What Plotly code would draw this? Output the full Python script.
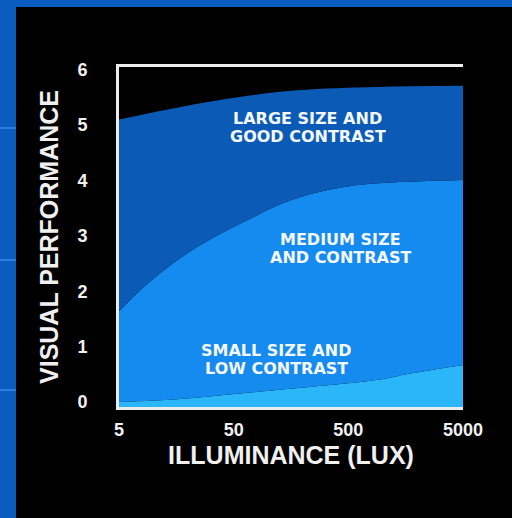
import math
import plotly.graph_objects as go

# ---- data ----
large_lux = [5, 13, 49, 178, 900, 5000]
large_vp = [5.1, 5.28, 5.49, 5.63, 5.69, 5.71]

medium_lux = [5, 9, 17.7, 34, 67, 115, 230, 450, 900, 5000]
medium_vp = [1.64, 2.15, 2.62, 2.98, 3.29, 3.53, 3.75, 3.88, 3.95, 4.01]

small_lux = [5, 16, 60, 230, 900, 1700, 5000]
small_vp = [0.0, 0.05, 0.16, 0.27, 0.4, 0.51, 0.67]

x_ticks = [5, 50, 500, 5000]
x_tick_text = ["5", "50", "500", "5000"]
y_ticks = [0, 1, 2, 3, 4, 5, 6]

# label lines, centre position (lux, visual performance)
labels = [
    (["LARGE SIZE AND", "GOOD CONTRAST"], 222, 4.96),
    (["MEDIUM SIZE", "AND CONTRAST"], 431, 2.77),
    (["SMALL SIZE AND", "LOW CONTRAST"], 118, 0.77),
]

Y_RANGE = [-0.09, 6.05]
X_RANGE = [math.log10(x_ticks[0]), math.log10(x_ticks[-1])]

C_LARGE = "#0b5bb6"
C_MEDIUM = "#168bef"
C_SMALL = "#2bb6f9"
FONT = "Liberation Sans, Arial, sans-serif"
LABEL_FONT = "DejaVu Sans, Liberation Sans, sans-serif"

# plot area in pixels
L, R, T, B = 119, 463, 67, 407
W, H = 512, 518
PW, PH = R - L, B - T

fig = go.Figure()

# baseline at the bottom of the axis range
fig.add_trace(go.Scatter(x=[x_ticks[0], x_ticks[-1]], y=[Y_RANGE[0], Y_RANGE[0]],
                         mode="lines", line=dict(width=0), hoverinfo="skip", showlegend=False))
fig.add_trace(go.Scatter(x=small_lux, y=small_vp, mode="lines", line=dict(width=0, shape="spline"),
                         fill="tonexty", fillcolor=C_SMALL, showlegend=False, name="Small"))
fig.add_trace(go.Scatter(x=medium_lux, y=medium_vp, mode="lines", line=dict(width=0, shape="spline"),
                         fill="tonexty", fillcolor=C_MEDIUM, showlegend=False, name="Medium"))
fig.add_trace(go.Scatter(x=large_lux, y=large_vp, mode="lines", line=dict(width=0, shape="spline"),
                         fill="tonexty", fillcolor=C_LARGE, showlegend=False, name="Large"))

LINE_STEP = 18.5
for lines, lx, ly in labels:
    n = len(lines)
    for i, t in enumerate(lines):
        fig.add_annotation(x=math.log10(lx), y=ly, xref="x", yref="y",
                           yshift=(n - 1) / 2 * LINE_STEP - i * LINE_STEP,
                           height=17, valign="middle",
                           text="<b>" + t + "</b>", showarrow=False,
                           font=dict(family=LABEL_FONT, size=16, color="#f4f8ff"),
                           align="center")

fig.update_layout(
    width=W, height=H,
    margin=dict(l=L, r=W - R, t=T, b=H - B),
    paper_bgcolor="#0a5cc0",
    plot_bgcolor="#000000",
    showlegend=False,
    xaxis=dict(type="log", range=X_RANGE, tickvals=x_ticks, ticktext=x_tick_text,
               showgrid=False, zeroline=False, showline=True, mirror=True,
               linecolor="#ececec", linewidth=3, ticks="", ticklabelstandoff=4,
               automargin=False,
               tickfont=dict(family=FONT, size=18, color="#f0f0f0", weight="bold"),
               title=dict(text="<b>ILLUMINANCE (LUX)</b>", standoff=8,
                          font=dict(family=FONT, size=25, color="#f0f0f0"))),
    yaxis=dict(range=Y_RANGE, tickvals=y_ticks, showgrid=False, zeroline=False,
               showline=True, linecolor="#ececec", linewidth=3, ticks="",
               ticklabelstandoff=25, automargin=False,
               tickfont=dict(family=FONT, size=18, color="#f0f0f0", weight="bold"),
               title=dict(text="<b>VISUAL PERFORMANCE</b>", standoff=12,
                          font=dict(family=FONT, size=25, color="#f0f0f0"))),
)

# black panel on the slide (leaves blue strips on the left and top)
def px_x(p):
    return (p - L) / PW

def px_y(p):
    return (B - p) / PH

fig.add_shape(type="rect", xref="paper", yref="paper",
              x0=px_x(16), x1=px_x(W + 5), y0=px_y(H + 5), y1=px_y(7),
              fillcolor="#000000", line=dict(width=0), layer="below")
for yy in [128, 260, 390]:
    fig.add_shape(type="line", xref="paper", yref="paper",
                  x0=px_x(-2), x1=px_x(16), y0=px_y(yy), y1=px_y(yy),
                  line=dict(color="#2a80dc", width=2), layer="below")

fig.write_html(
    "out.html",
    config={"displayModeBar": False},
    post_script="document.body.style.margin='0';document.body.style.overflow='hidden';",
)
